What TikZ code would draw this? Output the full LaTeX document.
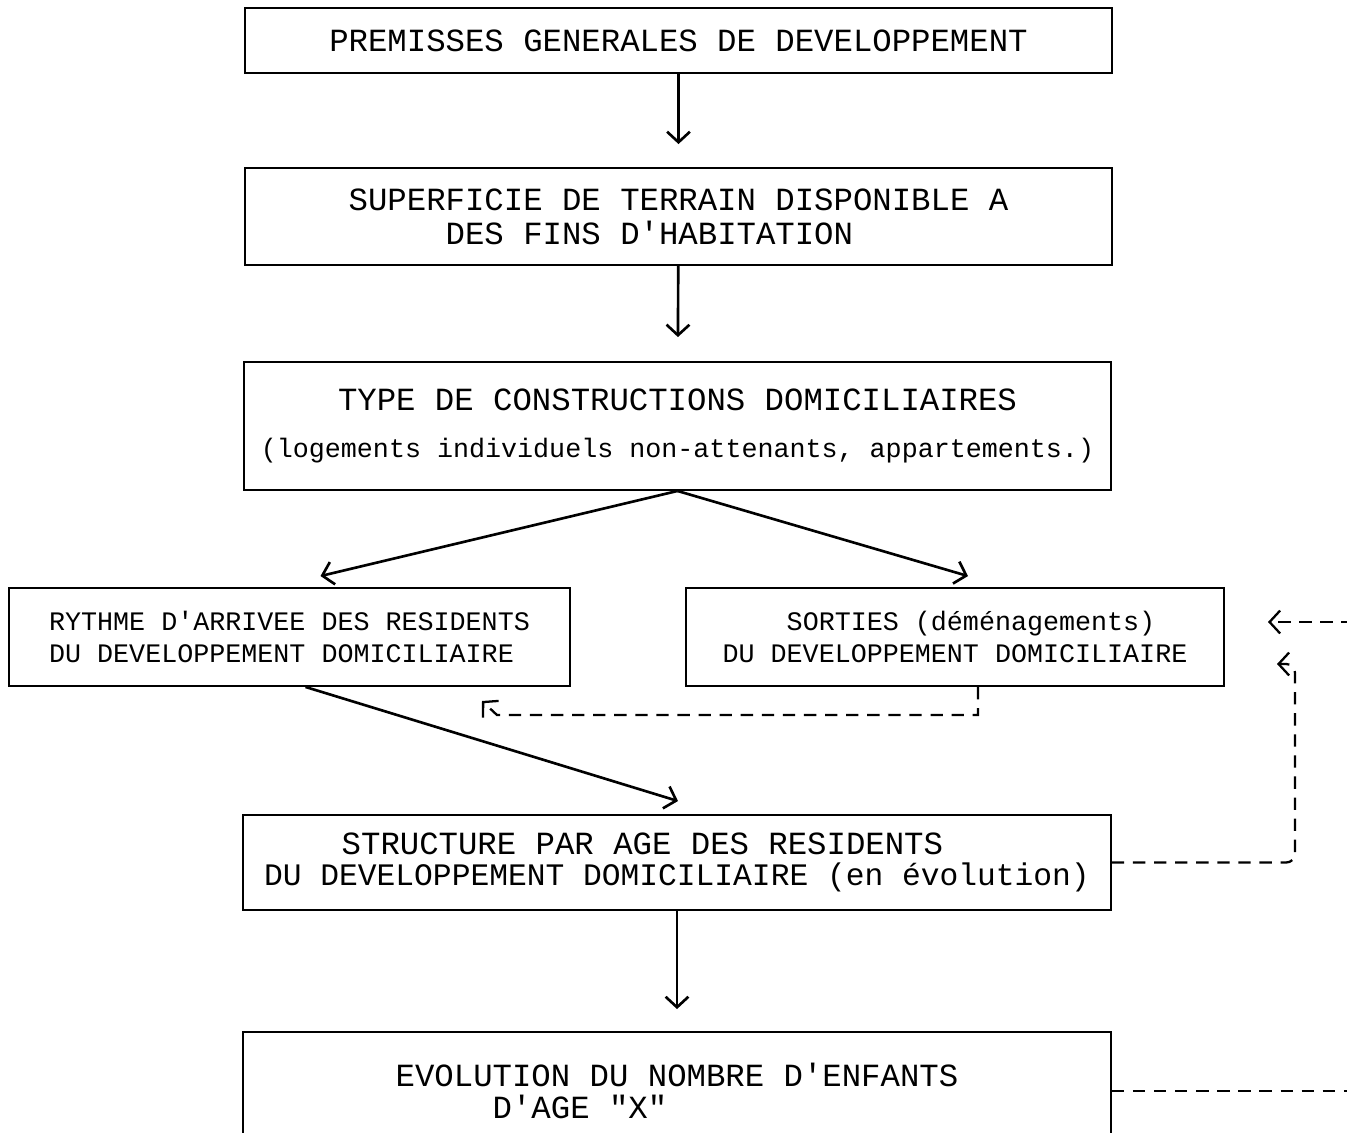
\documentclass[tikz,border=0pt]{standalone}
\usepackage{fontspec}
\newfontfamily\machine{Liberation Mono}[Ligatures=TeXOff]
\usepackage{tikz}
\usetikzlibrary{arrows.meta,calc}

\newcommand{\grand}{\machine\fontsize{18.4pt}{18.1pt}\selectfont}
\newcommand{\moyen}{\machine\fontsize{17.8pt}{18.1pt}\selectfont}
\newcommand{\petit}{\machine\fontsize{15.2pt}{18.1pt}\selectfont}

\begin{document}
\begin{tikzpicture}[x=0.02cm,y=-0.02cm,
  etape/.style={draw,line width=1.1pt,inner sep=0pt,align=left,font=\grand},
  fleche/.style={line width=1.5pt,-{Straight Barb[length=6pt,width=13pt]}},
  retour/.style={line width=1.3pt,dash pattern=on 7pt off 5pt,-{Straight Barb[length=6pt,width=13pt]}}]

\useasboundingbox (0,0) rectangle (1347,1133) ;

\node[etape,minimum width=17.34cm,minimum height=1.30cm] (premisses) at (678.5,40.5)
  {PREMISSES GENERALES DE DEVELOPPEMENT} ;
\node[etape,minimum width=17.34cm,minimum height=1.94cm] (superficie) at (678.5,216.5)
  {SUPERFICIE DE TERRAIN DISPONIBLE A\\[1.2pt]\phantom{XXXXX}DES FINS D'HABITATION} ;
\node[etape,align=center,minimum width=17.34cm,minimum height=2.56cm] (type) at (677.5,426)
  {TYPE DE CONSTRUCTIONS DOMICILIAIRES\\[9pt]{\petit (logements individuels non-attenants, appartements.)}} ;

\node[etape,font=\petit,minimum width=11.22cm,minimum height=1.96cm] (rythme) at (289.5,637)
  {RYTHME D'ARRIVEE DES RESIDENTS\\DU DEVELOPPEMENT DOMICILIAIRE} ;
\node[etape,font=\petit,minimum width=10.76cm,minimum height=1.96cm] (sorties) at (955,637)
  {\phantom{XXXX}SORTIES (déménagements)\\DU DEVELOPPEMENT DOMICILIAIRE} ;

\node[etape,minimum width=17.36cm,minimum height=1.90cm] (structure) at (677,862.5)
  {\phantom{XXXX}STRUCTURE PAR AGE DES RESIDENTS\\{\moyen DU DEVELOPPEMENT DOMICILIAIRE (en évolution)}} ;
\node[etape,minimum width=17.36cm,minimum height=2.36cm] (evolution) at (677,1091)
  {EVOLUTION DU NOMBRE D'ENFANTS\\\phantom{XXXXX}D'AGE "X"} ;

% fleches principales
\draw[fleche,shorten >=0.46cm] (premisses) -- (superficie) ;
\draw[fleche,shorten >=0.48cm] (superficie) -- (type) ;
\draw[fleche] (type.south) -- ($(rythme.north)+(31,-11)$) ;
\draw[fleche] (type.south) -- ($(sorties.north)+(13,-11)$) ;
\draw[fleche] ($(rythme.south)+(16,0)$) -- ($(structure.north)+(1,-13)$) ;
\draw[fleche,shorten >=0.44cm] (structure) -- (evolution) ;

% retours en tirets
\coordinate (coin) at (497,715) ;
\coordinate (pointe) at (482,701) ;
\draw[retour] ($(sorties.south)+(23,0)$) |- (coin) -- (pointe) ;

\draw[retour,rounded corners=5pt] (structure.east) -| (1295,664) -- (1277,664) ;

\draw[retour] (evolution.east) -- (1420,1091) -- (1420,622) -- (1268,622) ;

\end{tikzpicture}
\end{document}
